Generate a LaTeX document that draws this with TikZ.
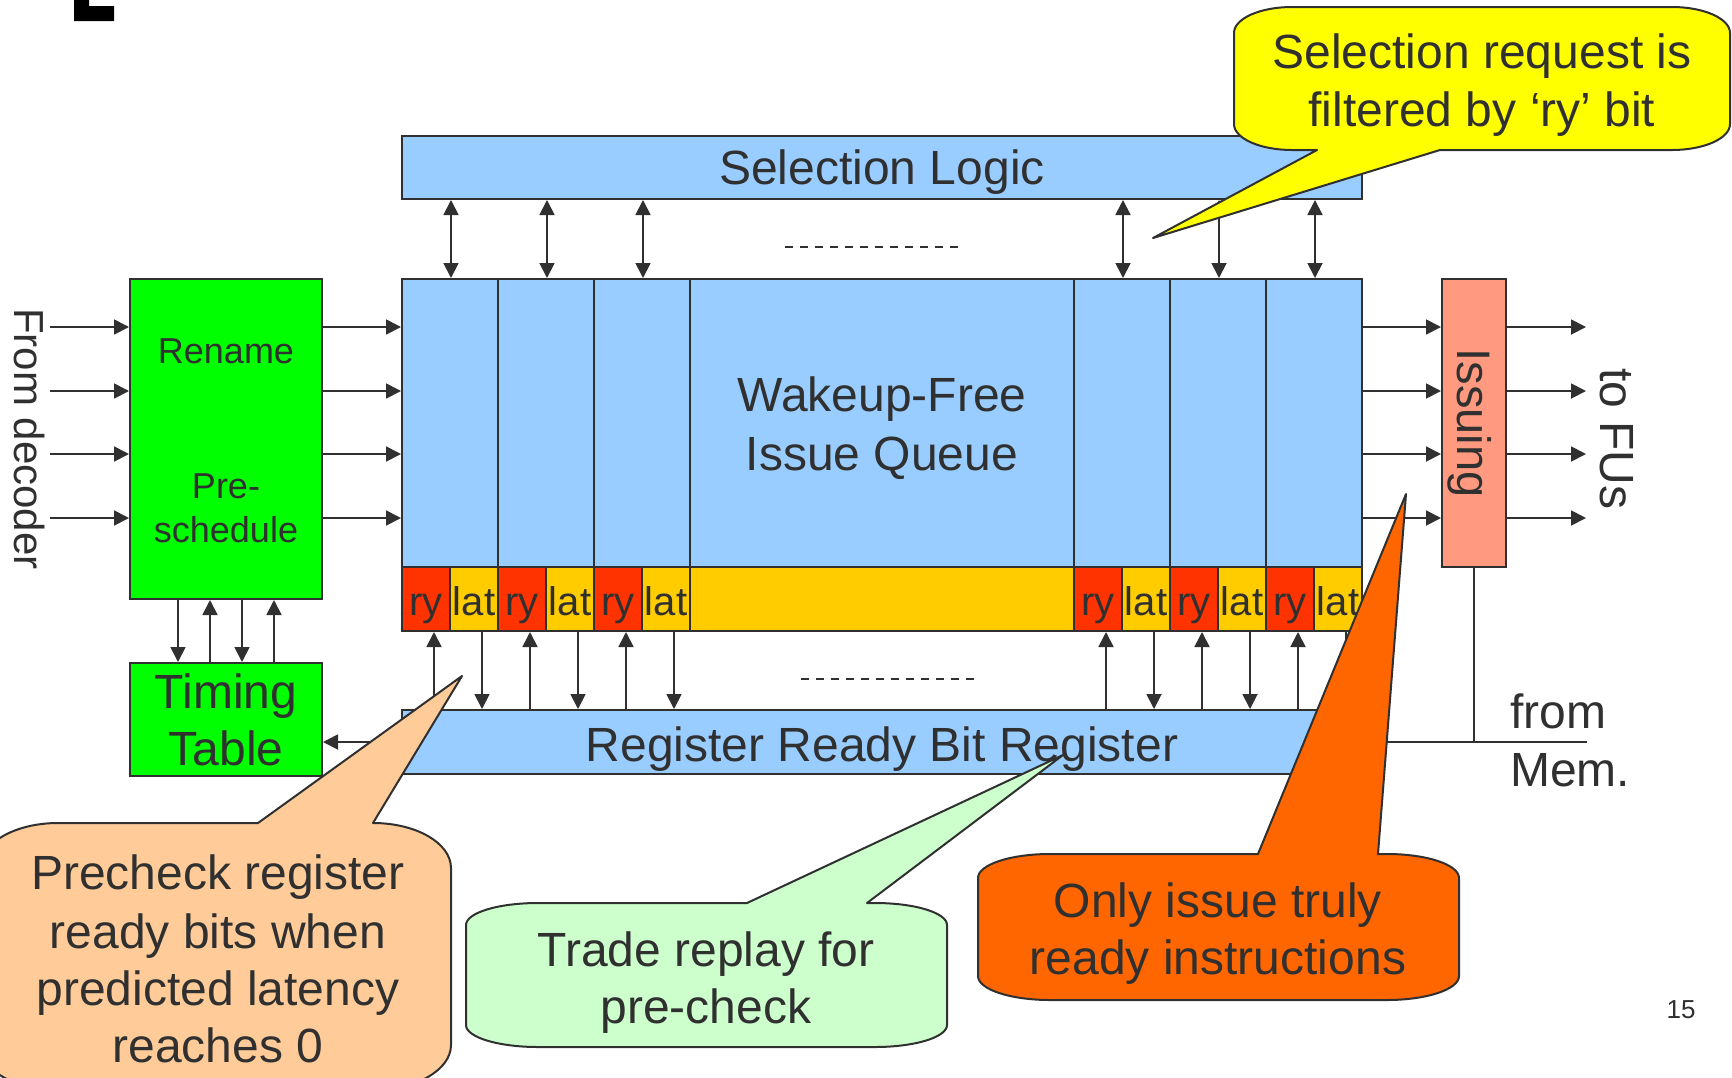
\documentclass[tikz,border=0pt]{standalone}
\usepackage{fontspec}
\setmainfont{Liberation Sans}
\usetikzlibrary{arrows.meta}

\definecolor{ink}{HTML}{303030}
\definecolor{qblue}{HTML}{99CCFF}
\definecolor{rgreen}{HTML}{00FF00}
\definecolor{issuecol}{HTML}{FF9980}
\definecolor{rycol}{HTML}{FF3300}
\definecolor{latcol}{HTML}{FFCC00}
\definecolor{peach}{HTML}{FFCC99}
\definecolor{mint}{HTML}{CCFFCC}
\definecolor{tangerine}{HTML}{FF6600}
\definecolor{lemon}{HTML}{FFFF00}

\begin{document}
\begin{tikzpicture}[
  x=1pt, y=-1pt,
  box/.style={draw=ink, line width=2pt, inner sep=0pt, text=ink},
  t48/.style={font=\fontsize{48}{58}\selectfont, text=ink, inner sep=0pt, text height=43.4pt, text depth=10.2pt},
  t47/.style={font=\fontsize{47}{56}\selectfont, text=ink, inner sep=0pt, text height=42.5pt, text depth=10pt},
  t42/.style={font=\fontsize{42}{50}\selectfont, text=ink, inner sep=0pt, text height=38pt, text depth=8.9pt},
  t40/.style={font=\fontsize{40}{48}\selectfont, text=ink, inner sep=0pt, text height=42.2pt, text depth=8.5pt},
  t36/.style={font=\fontsize{36}{43}\selectfont, text=ink, inner sep=0pt, text height=32.6pt, text depth=7.6pt},
  t26/.style={font=\fontsize{26}{31}\selectfont, text=ink, inner sep=0pt, text height=23.5pt, text depth=5.5pt},
  link/.style={draw=ink, line width=1.8pt},
  arr/.style={link, -{Triangle[length=15pt,width=15pt]}},
  darr/.style={link, {Triangle[length=15pt,width=15pt]}-{Triangle[length=15pt,width=15pt]}},
  bubble/.style={draw=ink, line width=2pt, line join=round},
  cell/.style={box, t40, minimum width=48pt, minimum height=64pt},
]

\fill[white] (0,0) rectangle (1732,1077);
\useasboundingbox (0,0) rectangle (1732,1077);

% foot of a heading glyph cut by the top edge
\fill[black] (74,0) -- (89,0) -- (89,6) -- (114,6) -- (114,21) -- (74,21) -- cycle;

% ---------- main blocks ----------
\node[box, t48, fill=qblue, minimum width=960pt, minimum height=63pt] (sel) at (882,167.5) {Selection Logic};

\node[box, fill=qblue, minimum width=960pt, minimum height=288pt] (queue) at (882,423) {};
\node[t48] (qt1) at (882,395) {Wakeup-Free};
\node[t48] (qt2) at (882,454) {Issue Queue};
\foreach \x in {498,594,690,1074,1170,1266}
  \draw[ink, line width=2pt] (\x,279) -- (\x,567);

% ready / latency fields of the queue entries
\node[box, fill=latcol, minimum width=384pt, minimum height=64pt] (latmid) at (882,599) {};
\foreach \l [count=\i] in {402,498,594,1074,1170,1266} {
  \node[cell, fill=rycol] (ry\i) at (\l+24,599) {ry};
  \node[cell, fill=latcol] (lat\i) at (\l+72,599) {lat};
}

\node[box, fill=rgreen, minimum width=192pt, minimum height=320pt] (rename) at (226,439) {};
\node[t36] (rnt) at (226,351) {Rename};
\node[t36] (pst1) at (226,486) {Pre-};
\node[t36] (pst2) at (226,530) {schedule};

\node[box, fill=rgreen, minimum width=192pt, minimum height=113pt] (timing) at (226,719.5) {};
\node[t48] (tt1) at (226,692) {Timing};
\node[t48] (tt2) at (226,749) {Table};

\node[box, fill=qblue, minimum width=960pt, minimum height=64pt] (rrbr) at (882,742) {};
\node[t48] (rrbrt) at (882,745) {Register Ready Bit Register};

\node[box, fill=issuecol, minimum width=64pt, minimum height=288pt] (issuing) at (1474,423) {};
\node[t47, rotate=-90] (isst) at (1474,423) {Issuing};

% ---------- outer labels ----------
\node[t42, rotate=-90] (fromdec) at (29,439) {From decoder};
\node[t48, rotate=-90] (tofus) at (1617,439) {to FUs};
\node[t48, anchor=west] (from1) at (1510,712) {from};
\node[t48, anchor=west] (from2) at (1510,770) {Mem.};
\node[t26] (pagenum) at (1681,1009) {15};

% ---------- datapath lanes ----------
\foreach \y [count=\i] in {327,391,454,518} {
  \coordinate (in\i) at (50,\y);
  \coordinate (out\i) at (1586,\y);
  \draw[arr] (in\i) -- (rename.west |- in\i);
  \draw[arr] (rename.east |- in\i) -- (queue.west |- in\i);
  \draw[arr] (queue.east |- in\i) -- (issuing.west |- in\i);
  \draw[arr] (issuing.east |- in\i) -- (out\i);
}

% request / grant between entries and selection logic
\foreach \i in {1,...,6}
  \draw[darr] (ry\i.east |- sel.south) -- (ry\i.east |- queue.north);

% ready-bit reads and latency writes
\foreach \i in {1,...,6} {
  \coordinate (ryb\i) at ([xshift=8pt]ry\i.south);
  \coordinate (latb\i) at ([xshift=8pt]lat\i.south);
  \draw[arr] (ryb\i |- rrbr.north) -- (ryb\i);
  \draw[arr] (latb\i) -- (latb\i |- rrbr.north);
}

% rename <-> timing table
\coordinate (rt1) at ([xshift=-48pt]rename.south);
\coordinate (rt2) at ([xshift=-16pt]rename.south);
\coordinate (rt3) at ([xshift=16pt]rename.south);
\coordinate (rt4) at ([xshift=48pt]rename.south);
\draw[arr] (rt1) -- (rt1 |- timing.north);
\draw[arr] (rt2 |- timing.north) -- (rt2);
\draw[arr] (rt3) -- (rt3 |- timing.north);
\draw[arr] (rt4 |- timing.north) -- (rt4);

\draw[arr] (rrbr.west) -- (timing.east |- rrbr.west);

% memory return path
\coordinate (mem) at (1587,742);
\draw[link] (issuing.south) -- (issuing.south |- mem);
\draw[arr] (mem) -- (rrbr.east);

% elided entries
\draw[ink, line width=2pt, dash pattern=on 8pt off 7pt] (785,247) -- (961,247);
\draw[ink, line width=2pt, dash pattern=on 8pt off 7pt] (801,679) -- (978,679);

% ---------- callouts ----------
\draw[bubble, fill=peach]
  (58,823) -- (258,823) -- (462,676) -- (373,823)
  .. controls (416.1,823) and (451,843.1) .. (451,868) -- (451,1045)
  .. controls (451,1069.9) and (416.1,1090) .. (373,1090) -- (58,1090)
  .. controls (14.9,1090) and (-20,1069.9) .. (-20,1045) -- (-20,868)
  .. controls (-20,843.1) and (14.9,823) .. (58,823) -- cycle;
\node[t48] (pc1) at (218,873) {Precheck register};
\node[t48] (pc2) at (218,932) {ready bits when};
\node[t48] (pc3) at (218,989) {predicted latency};
\node[t48] (pc4) at (218,1046) {reaches 0};

\draw[bubble, fill=mint]
  (538,903) -- (747,903) -- (1063,755) -- (867,903) -- (875,903)
  .. controls (914.8,903) and (947,912.8) .. (947,925) -- (947,1025)
  .. controls (947,1037.2) and (914.8,1047) .. (875,1047) -- (538,1047)
  .. controls (498.2,1047) and (466,1037.2) .. (466,1025) -- (466,925)
  .. controls (466,912.8) and (498.2,903) .. (538,903) -- cycle;
\node[t48] (tr1) at (706,950) {Trade replay for};
\node[t48] (tr2) at (706,1007) {pre-check};

\draw[bubble, fill=tangerine]
  (1050,854) -- (1258,854) -- (1406,494) -- (1378,854) -- (1387,854)
  .. controls (1426.8,854) and (1459,864.7) .. (1459,878) -- (1459,976)
  .. controls (1459,989.3) and (1426.8,1000) .. (1387,1000) -- (1050,1000)
  .. controls (1010.2,1000) and (978,989.3) .. (978,976) -- (978,878)
  .. controls (978,864.7) and (1010.2,854) .. (1050,854) -- cycle;
\node[t48] (oi1) at (1218,901) {Only issue truly};
\node[t48] (oi2) at (1218,958) {ready instructions};

\draw[bubble, fill=lemon]
  (1292,7) -- (1672,7)
  .. controls (1704,7) and (1730,18.6) .. (1730,33) -- (1730,124)
  .. controls (1730,138.4) and (1704,150) .. (1672,150) -- (1440,150)
  -- (1153,238) -- (1317,150) -- (1292,150)
  .. controls (1260,150) and (1234,138.4) .. (1234,124) -- (1234,33)
  .. controls (1234,18.6) and (1260,7) .. (1292,7) -- cycle;
\node[t48] (sr1) at (1482,52) {Selection request is};
\node[t48] (sr2) at (1482,110) {filtered by ‘ry’ bit};

\end{tikzpicture}
\end{document}
